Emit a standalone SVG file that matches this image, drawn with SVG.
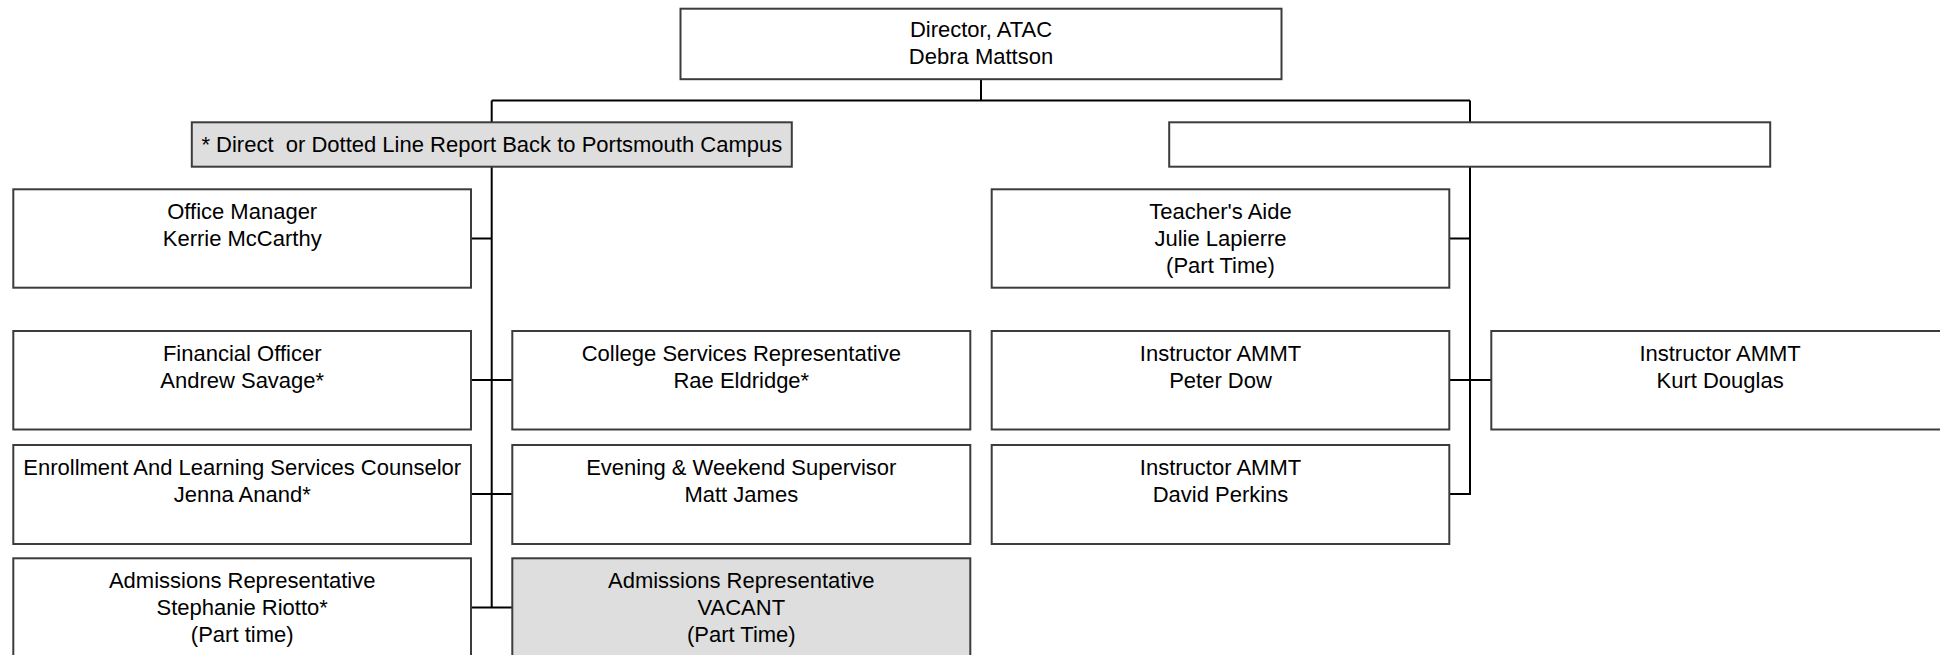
<svg xmlns="http://www.w3.org/2000/svg" width="1940" height="655" viewBox="0 0 1940 655">
  <style>
    .box { fill: #ffffff; stroke: #3c3c3c; stroke-width: 2; }
    .shade { fill: #dedede; }
    .wire { fill: none; stroke: #000000; stroke-width: 2; }
    text { font-family: "Liberation Sans", Arial, sans-serif; font-size: 22px; fill: #000000; text-anchor: middle; }
    .pre { white-space: pre; }
  </style>
  <rect x="0" y="0" width="1940" height="655" fill="#ffffff"/>

  <!-- reporting lines -->
  <g id="connectors">
    <path class="wire" d="M981 79 V100.5 M491.7 100.5 H1470 M491.7 100.5 V607.5 M1470 100.5 V494 H1449"/>
    <path class="wire" d="M471 238.5 H491.7 M471 380 H512.3 M471 494 H512.3 M471 607.5 H512.3"/>
    <path class="wire" d="M1449 238.5 H1470 M1449 380 H1491.3"/>
  </g>

  <g id="director">
    <rect class="box" x="680.5" y="8.7" width="601" height="70.5"/>
    <text x="981" y="36.5">Director, ATAC</text>
    <text x="981" y="64">Debra Mattson</text>
  </g>

  <g id="campus-note">
    <rect class="box shade" x="191.8" y="122.3" width="600" height="44.4"/>
    <text class="pre" x="491.8" y="151.5">* Direct  or Dotted Line Report Back to Portsmouth Campus</text>
  </g>

  <g id="unnamed-lead">
    <rect class="box" x="1169.2" y="122.3" width="601" height="44.4"/>
  </g>

  <g id="office-manager">
    <rect class="box" x="13.3" y="189.3" width="457.7" height="98.4"/>
    <text x="242.2" y="219.3">Office Manager</text>
    <text x="242.2" y="246.3">Kerrie McCarthy</text>
  </g>

  <g id="financial-officer">
    <rect class="box" x="13.3" y="331" width="457.7" height="98.5"/>
    <text x="242.2" y="361">Financial Officer</text>
    <text x="242.2" y="388">Andrew Savage*</text>
  </g>

  <g id="college-services">
    <rect class="box" x="512.3" y="331" width="458" height="98.5"/>
    <text x="741.3" y="361">College Services Representative</text>
    <text x="741.3" y="388">Rae Eldridge*</text>
  </g>

  <g id="enrollment-counselor">
    <rect class="box" x="13.3" y="445" width="457.7" height="99"/>
    <text x="242.2" y="475">Enrollment And Learning Services Counselor</text>
    <text x="242.2" y="502">Jenna Anand*</text>
  </g>

  <g id="evening-supervisor">
    <rect class="box" x="512.3" y="445" width="458" height="99"/>
    <text x="741.3" y="475">Evening &amp; Weekend Supervisor</text>
    <text x="741.3" y="502">Matt James</text>
  </g>

  <g id="admissions-riotto">
    <rect class="box" x="13.3" y="558.3" width="457.7" height="99"/>
    <text x="242.2" y="588.3">Admissions Representative</text>
    <text x="242.2" y="615.3">Stephanie Riotto*</text>
    <text x="242.2" y="642.3">(Part time)</text>
  </g>

  <g id="admissions-vacant">
    <rect class="box shade" x="512.3" y="558.3" width="458" height="99"/>
    <text x="741.3" y="588.3">Admissions Representative</text>
    <text x="741.3" y="615.3">VACANT</text>
    <text x="741.3" y="642.3">(Part Time)</text>
  </g>

  <g id="teachers-aide">
    <rect class="box" x="991.7" y="189.3" width="457.6" height="98.4"/>
    <text x="1220.5" y="219.3">Teacher's Aide</text>
    <text x="1220.5" y="246.3">Julie Lapierre</text>
    <text x="1220.5" y="273.3">(Part Time)</text>
  </g>

  <g id="instructor-dow">
    <rect class="box" x="991.7" y="331" width="457.6" height="98.5"/>
    <text x="1220.5" y="361">Instructor AMMT</text>
    <text x="1220.5" y="388">Peter Dow</text>
  </g>

  <g id="instructor-douglas">
    <rect class="box" x="1491.3" y="331" width="457.6" height="98.5"/>
    <text x="1720.1" y="361">Instructor AMMT</text>
    <text x="1720.1" y="388">Kurt Douglas</text>
  </g>

  <g id="instructor-perkins">
    <rect class="box" x="991.7" y="445" width="457.6" height="99"/>
    <text x="1220.5" y="475">Instructor AMMT</text>
    <text x="1220.5" y="502">David Perkins</text>
  </g>
</svg>
